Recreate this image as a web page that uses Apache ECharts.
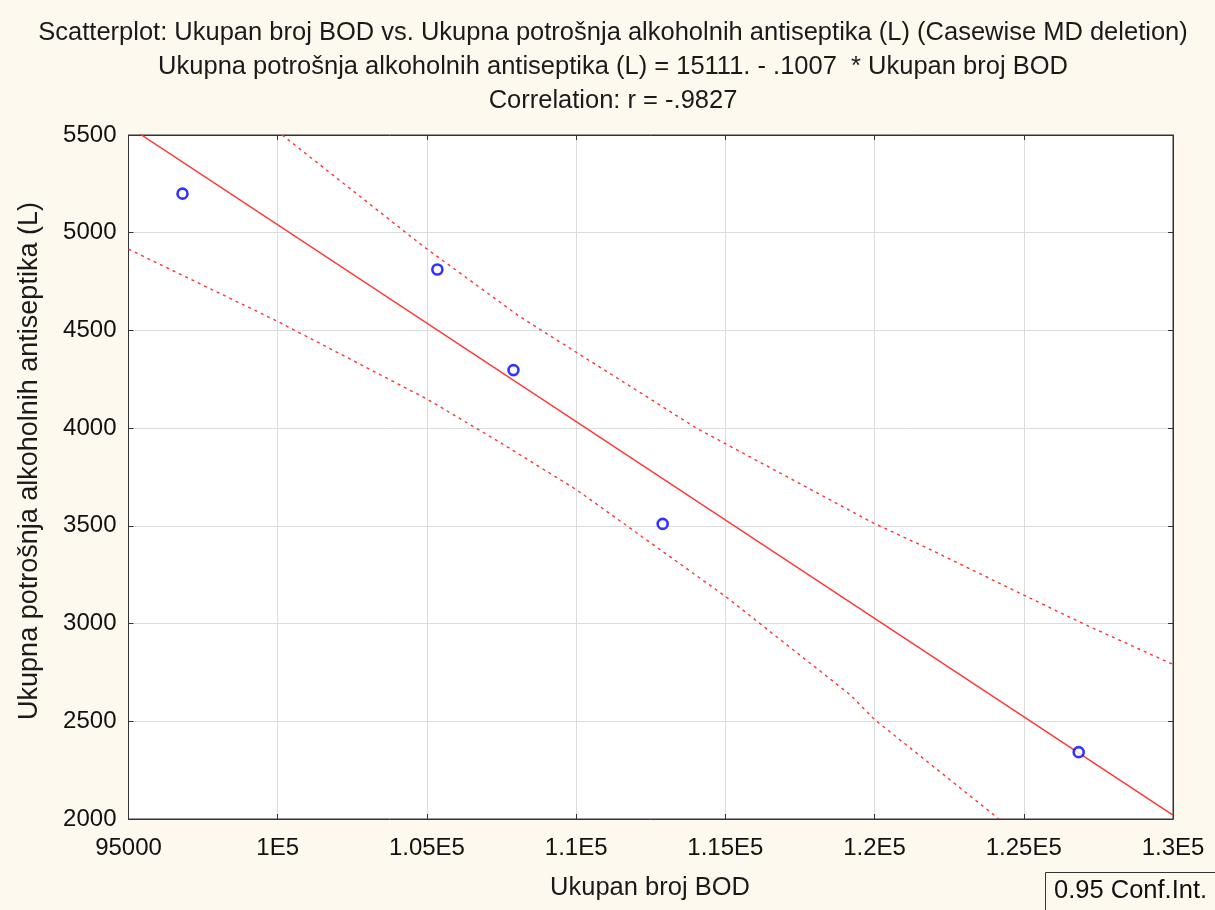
<!DOCTYPE html>
<html><head><meta charset="utf-8">
<script src="https://cdn.jsdelivr.net/npm/echarts@6/dist/echarts.min.js"></script>
<style>html,body{margin:0;padding:0;background:#fdf9ee;}#c{width:1215px;height:910px;}</style>
</head><body><div id="c"></div>
<script>
const titleLines = [
  'Scatterplot: Ukupan broj BOD vs. Ukupna potrošnja alkoholnih antiseptika (L) (Casewise MD deletion)',
  'Ukupna potrošnja alkoholnih antiseptika (L) = 15111. - .1007  * Ukupan broj BOD',
  'Correlation: r = -.9827'
];
const xName = 'Ukupan broj BOD';
const yName = 'Ukupna potrošnja alkoholnih antiseptika (L)';
const legendText = '0.95 Conf.Int.';
const points = [[96810,5200],[105350,4812],[107900,4297],[112900,3510],[126840,2342]];
const fitLine = [[95000,5544],[130000,2020]];
const upperBand = [[100150,5500],[104880,4930],[108120,4570],[114030,4000],[119950,3515],[121850,3380],[124970,3148],[126980,3000],[130000,2791]];
const lowerBand = [[95000,4916],[100000,4546],[105000,4149],[107450,3927],[110010,3685],[115040,3135],[119170,2637],[120000,2509],[124170,2000]];

const font = "'Liberation Sans', Arial, sans-serif";
const chart = echarts.init(document.getElementById('c'));
function xfmt(v){ if (v < 100000) return String(v); return parseFloat((v/1e5).toFixed(3)) + 'E5'; }
const gridLine = {show:true, lineStyle:{color:'#dcdcdc', width:1}};
const tick = {show:true, inside:true, length:5, lineStyle:{color:'#333'}};
const titleY = [33, 67, 101];
chart.setOption({
  backgroundColor:'#fdf9ee',
  animation:false,
  grid:{left:128.5, right:42, top:135, bottom:91, show:true, backgroundColor:'#ffffff', borderColor:'#333', borderWidth:1},
  xAxis:[
    {type:'value', min:95000, max:130000, interval:5000, position:'bottom',
     axisLine:{show:true, lineStyle:{color:'#333'}}, axisTick:tick, splitLine:gridLine,
     axisLabel:{formatter:xfmt, fontFamily:font, fontSize:24, color:'#111', margin:17}},
    {type:'value', min:95000, max:130000, interval:5000, position:'top',
     axisLine:{show:true, lineStyle:{color:'#333'}}, axisTick:tick, splitLine:{show:false}, axisLabel:{show:false}}
  ],
  yAxis:[
    {type:'value', min:2000, max:5500, interval:500, position:'left',
     axisLine:{show:true, lineStyle:{color:'#333'}}, axisTick:tick, splitLine:gridLine,
     axisLabel:{formatter:(v)=>String(v), fontFamily:font, fontSize:24, color:'#111', margin:12}},
    {type:'value', min:2000, max:5500, interval:500, position:'right',
     axisLine:{show:true, lineStyle:{color:'#333'}}, axisTick:tick, splitLine:{show:false}, axisLabel:{show:false}}
  ],
  series:[
    {type:'line', data:fitLine, symbol:'none', clip:true, lineStyle:{color:'#ff3333', width:1.4}},
    {type:'line', data:upperBand, symbol:'none', clip:true, lineStyle:{color:'#ff3333', width:1.4, type:[3,4]}},
    {type:'line', data:lowerBand, symbol:'none', clip:true, lineStyle:{color:'#ff3333', width:1.4, type:[3,4]}},
    {type:'scatter', data:points, symbol:'circle', symbolSize:10, itemStyle:{color:'#ffffff', borderColor:'#0000ff', borderWidth:2.6}, z:5}
  ],
  graphic:[
    ...titleLines.map((t,i)=>({type:'text', x:613, y:titleY[i], style:{text:t, textAlign:'center', textVerticalAlign:'middle', fontFamily:font, fontSize:25.5, fill:'#1a1a1a'}})),
    {type:'text', x:650, y:888, style:{text:xName, textAlign:'center', textVerticalAlign:'middle', fontFamily:font, fontSize:25.5, fill:'#1a1a1a'}},
    {type:'text', x:30, y:461, rotation:Math.PI/2, style:{text:yName, textAlign:'center', textVerticalAlign:'middle', fontFamily:font, fontSize:27, fill:'#1a1a1a'}},
    {type:'rect', shape:{x:1045.5, y:872.5, width:180, height:50}, style:{fill:'#fdf9ee', stroke:'#333', lineWidth:1}},
    {type:'text', x:1054, y:891, style:{text:legendText, textVerticalAlign:'middle', fontFamily:font, fontSize:25.5, fill:'#111'}}
  ]
});
</script></body></html>
